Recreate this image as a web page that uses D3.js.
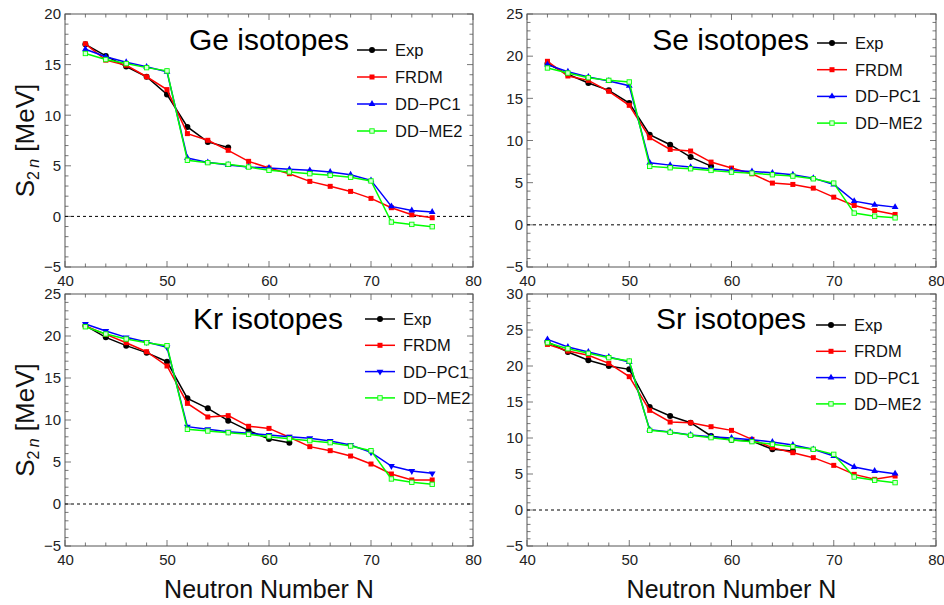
<!DOCTYPE html>
<html>
<head>
<meta charset="utf-8">
<script src="https://cdn.jsdelivr.net/npm/d3@7"></script>
<style>
  body { margin: 0; background: #fff; }
  text { font-family: Arial, "Liberation Sans", sans-serif; }
</style>
</head>
<body>
<div id="chart"></div>
<script>
// neutron numbers
const N = [42, 44, 46, 48, 50, 52, 54, 56, 58, 60, 62, 64, 66, 68, 70, 72, 74, 76];
const seriesNames = ["Exp", "FRDM", "DD\u2212PC1", "DD\u2212ME2"];
const xTicks = [40, 50, 60, 70, 80];

// Ge
const geExp   = [17.0, 15.86, 14.8, 13.8, 12.04, 8.84, 7.36, 6.8];
const geFrdm  = [17.05, 15.44, 14.94, 13.8, 12.53, 8.18, 7.52, 6.53, 5.44, 4.78, 4.22, 3.46, 2.97, 2.47, 1.78, 0.86, 0.16, -0.13];
const gePc1   = [16.52, 15.77, 15.24, 14.78, 14.28, 5.77, 5.34, 5.08, 4.88, 4.78, 4.65, 4.55, 4.39, 4.12, 3.56, 0.99, 0.59, 0.43];
const geMe2   = [16.1, 15.5, 15.1, 14.7, 14.38, 5.54, 5.31, 5.15, 4.88, 4.55, 4.39, 4.22, 4.06, 3.86, 3.5, -0.56, -0.79, -1.02];
// Se
const seExp   = [19.11, 17.85, 16.82, 15.95, 14.44, 10.68, 9.5, 8.03, 6.96];
const seFrdm  = [19.39, 17.65, 17.13, 15.83, 14.17, 10.33, 8.94, 8.75, 7.44, 6.73, 6.05, 4.95, 4.79, 4.35, 3.28, 2.3, 1.7, 1.23];
const sePc1   = [19.0, 18.16, 17.53, 17.06, 16.5, 7.36, 7.08, 6.85, 6.61, 6.45, 6.33, 6.17, 5.94, 5.54, 4.79, 2.81, 2.37, 2.1];
const seMe2   = [18.6, 18.0, 17.45, 17.13, 16.94, 6.93, 6.77, 6.65, 6.45, 6.25, 6.13, 5.94, 5.78, 5.46, 4.95, 1.39, 1.03, 0.83];
// Kr
const krExp   = [21.23, 19.84, 18.85, 18.02, 16.94, 12.58, 11.39, 9.92, 8.73, 7.74, 7.3];
const krFrdm  = [21.2, 20.2, 19.2, 18.13, 16.43, 11.98, 10.36, 10.52, 9.25, 9.0, 7.94, 6.83, 6.35, 5.71, 4.76, 3.57, 2.86, 2.86];
const krPc1   = [21.43, 20.6, 19.84, 19.29, 18.65, 9.21, 8.89, 8.61, 8.41, 8.21, 8.02, 7.82, 7.5, 7.02, 6.15, 4.52, 3.93, 3.65];
const krMe2   = [21.1, 20.24, 19.64, 19.2, 18.85, 8.89, 8.69, 8.49, 8.29, 8.02, 7.78, 7.54, 7.3, 6.9, 6.35, 2.98, 2.58, 2.34];
// Sr
const srExp   = [23.33, 21.94, 20.79, 20.0, 19.54, 14.3, 13.06, 12.13, 10.28, 9.72, 9.58, 8.43, 8.19];
const srFrdm  = [23.0, 22.08, 21.48, 20.37, 18.52, 13.84, 12.22, 12.13, 11.57, 11.06, 9.81, 8.66, 7.96, 7.27, 6.2, 4.95, 4.26, 4.72];
const srPc1   = [23.7, 22.64, 21.94, 21.25, 20.56, 11.16, 10.83, 10.42, 10.19, 10.0, 9.77, 9.44, 9.03, 8.43, 7.5, 5.97, 5.42, 5.05];
const srMe2   = [23.24, 22.4, 21.76, 21.16, 20.69, 11.06, 10.79, 10.37, 10.05, 9.72, 9.49, 9.12, 8.8, 8.43, 7.73, 4.58, 4.12, 3.8];

const panels = [
  {title: "Ge isotopes", yMax: 20, series: [geExp, geFrdm, gePc1, geMe2], pcDown: false,
   box: {l: 65, r: 473, t: 14, b: 267}, titleX: 284, titleY: 36, legX: 292, legY: 36, legDy: 27, yLabel: true, xLabel: false},
  {title: "Se isotopes", yMax: 25, series: [seExp, seFrdm, sePc1, seMe2], pcDown: false,
   box: {l: 527, r: 936, t: 14, b: 267}, titleX: 282, titleY: 36, legX: 290, legY: 29, legDy: 26.7, yLabel: false, xLabel: false},
  {title: "Kr isotopes", yMax: 25, series: [krExp, krFrdm, krPc1, krMe2], pcDown: true,
   box: {l: 65, r: 473, t: 294, b: 546}, titleX: 278, titleY: 35, legX: 300, legY: 25, legDy: 26.3, yLabel: true, xLabel: true},
  {title: "Sr isotopes", yMax: 30, series: [srExp, srFrdm, srPc1, srMe2], pcDown: false,
   box: {l: 527, r: 936, t: 294, b: 546}, titleX: 279, titleY: 35, legX: 289, legY: 31, legDy: 26.3, yLabel: false, xLabel: true}
];

const colors = ["#000000", "#ff0000", "#0000ff", "#00ff00"];

const svg = d3.select("#chart").append("svg")
  .attr("width", 944).attr("height", 605);

function marker(g, k, down, color) {
  if (k === 0) {
    return g.append("circle").attr("r", 3).attr("fill", color);
  }
  if (k === 1) {
    return g.append("rect").attr("x", -2.5).attr("y", -2.5).attr("width", 5).attr("height", 5).attr("fill", color);
  }
  if (k === 2) {
    return g.append("path").attr("d", d3.symbol(d3.symbolTriangle, 20)())
      .attr("transform", down ? "rotate(180)" : null).attr("fill", color);
  }
  return g.append("rect").attr("x", -2.2).attr("y", -2.2).attr("width", 4.4).attr("height", 4.4)
    .attr("fill", "#d8ffd8").attr("stroke", color).attr("stroke-width", 0.9);
}

panels.forEach(p => {
  const b = p.box;
  const x = d3.scaleLinear().domain([40, 80]).range([b.l, b.r]);
  const y = d3.scaleLinear().domain([-5, p.yMax]).range([b.b, b.t]);
  const g = svg.append("g");

  // minor ticks
  const xMinor = d3.range(40, 81, 2);
  const yMinor = d3.range(-5, p.yMax + 1, 1);
  const tg = g.append("g").attr("stroke", "#555").attr("stroke-width", 0.8);
  xMinor.forEach(v => {
    const len = v % 10 === 0 ? 6 : 3.5;
    tg.append("line").attr("x1", x(v)).attr("x2", x(v)).attr("y1", b.b).attr("y2", b.b - len);
    tg.append("line").attr("x1", x(v)).attr("x2", x(v)).attr("y1", b.t).attr("y2", b.t + len);
  });
  yMinor.forEach(v => {
    const len = v % 5 === 0 ? 6 : 3.5;
    tg.append("line").attr("y1", y(v)).attr("y2", y(v)).attr("x1", b.l).attr("x2", b.l + len);
    tg.append("line").attr("y1", y(v)).attr("y2", y(v)).attr("x1", b.r).attr("x2", b.r - len);
  });

  // frame
  g.append("rect").attr("x", b.l).attr("y", b.t).attr("width", b.r - b.l).attr("height", b.b - b.t)
    .attr("fill", "none").attr("stroke", "#555").attr("stroke-width", 1);

  // tick labels via axes
  const fmt = d => (d < 0 ? "\u2212" + Math.abs(d) : d);
  const xAxis = d3.axisBottom(x).tickValues(xTicks).tickSize(0).tickPadding(8).tickFormat(fmt);
  const yAxis = d3.axisLeft(y).tickValues(d3.range(-5, p.yMax + 1, 5)).tickSize(0).tickPadding(4).tickFormat(fmt);
  const gx = g.append("g").attr("transform", `translate(0,${b.b})`).call(xAxis);
  const gy = g.append("g").attr("transform", `translate(${b.l},0)`).call(yAxis);
  [gx, gy].forEach(a => {
    a.select(".domain").remove();
    a.selectAll("text").attr("font-size", 15).attr("fill", "#222")
      .style("font-family", "Arial, 'Liberation Sans', sans-serif");
  });

  // zero line
  g.append("line").attr("x1", b.l).attr("x2", b.r).attr("y1", y(0)).attr("y2", y(0))
    .attr("stroke", "#000").attr("stroke-width", 1).attr("stroke-dasharray", "3,3");

  // series
  p.series.forEach((vals, k) => {
    const pts = vals.map((v, i) => [N[i], v]);
    g.append("path").datum(pts)
      .attr("fill", "none").attr("stroke", colors[k]).attr("stroke-width", 1.5)
      .attr("d", d3.line().x(d => x(d[0])).y(d => y(d[1])));
    pts.forEach(d => {
      const mg = g.append("g").attr("transform", `translate(${x(d[0])},${y(d[1])})`);
      marker(mg, k, p.pcDown, colors[k]);
    });
  });

  // title
  g.append("text").attr("x", b.l + p.titleX).attr("y", b.t + p.titleY)
    .attr("text-anchor", "end").attr("font-size", 30).attr("fill", "#000").text(p.title);

  // legend
  seriesNames.forEach((name, k) => {
    const ly = b.t + p.legY + k * p.legDy;
    const lx = b.l + p.legX;
    g.append("line").attr("x1", lx).attr("x2", lx + 30).attr("y1", ly).attr("y2", ly)
      .attr("stroke", colors[k]).attr("stroke-width", 1.5);
    const mg = g.append("g").attr("transform", `translate(${lx + 15},${ly})`);
    marker(mg, k, p.pcDown, colors[k]);
    g.append("text").attr("x", lx + 38).attr("y", ly + 6).attr("font-size", 16.5)
      .attr("fill", "#111").text(name);
  });

  // y label
  if (p.yLabel) {
    const cy = (b.t + b.b) / 2;
    const t = g.append("text").attr("transform", `translate(34,${cy}) rotate(-90)`)
      .attr("text-anchor", "middle").attr("font-size", 26).attr("fill", "#111");
    t.append("tspan").text("S");
    t.append("tspan").attr("font-size", 16).attr("dy", 5).text("2\u2009");
    t.append("tspan").attr("font-size", 16).attr("font-style", "italic").text("n");
    t.append("tspan").attr("dy", -5).text(" [MeV]");
  }
  // x label
  if (p.xLabel) {
    g.append("text").attr("x", (b.l + b.r) / 2).attr("y", 598)
      .attr("text-anchor", "middle").attr("font-size", 25).attr("fill", "#111")
      .text("Neutron Number N");
  }
});
</script>
</body>
</html>
